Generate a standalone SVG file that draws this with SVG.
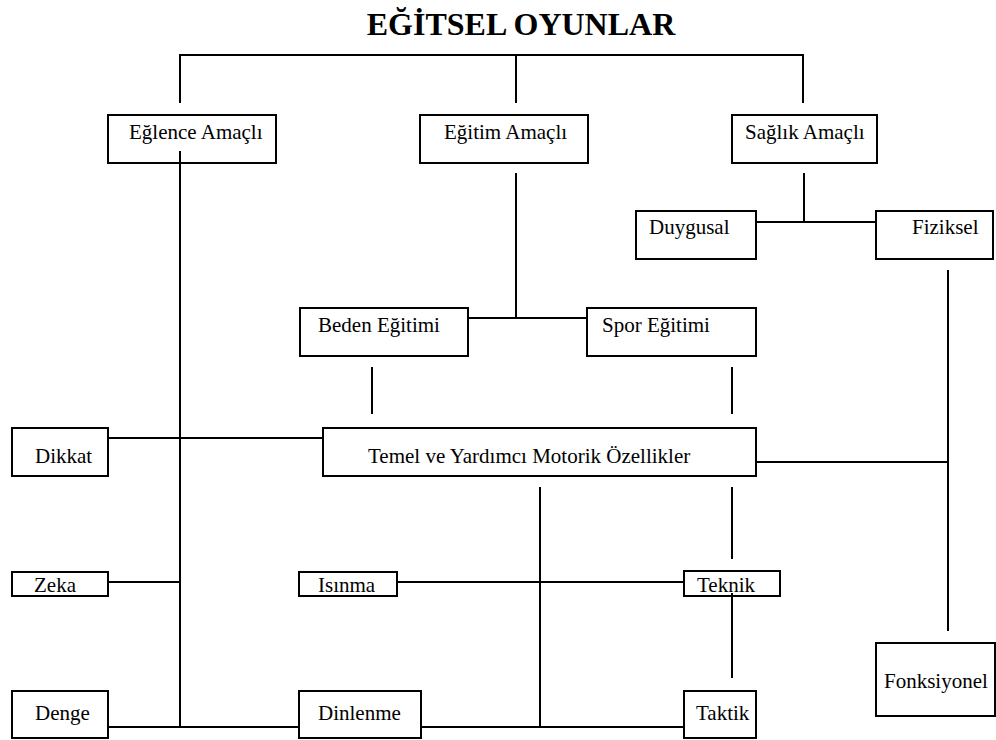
<svg xmlns="http://www.w3.org/2000/svg" width="996" height="740" viewBox="0 0 996 740">
<style>
.box{fill:#fff;stroke:#000;stroke-width:2}
.t{font-family:"Liberation Serif","Times New Roman",serif;font-size:21px;fill:#000}
.title{font-family:"Liberation Serif","Times New Roman",serif;font-size:32px;font-weight:bold;fill:#000}
.c{fill:none;stroke:#000;stroke-width:2}
</style>
<rect width="996" height="740" fill="#fff"/>
<text class="title" x="521" y="35" text-anchor="middle">EĞİTSEL OYUNLAR</text>
<g id="eglence"><rect class="box" x="108" y="115" width="168" height="48"/><text class="t" x="129" y="139">Eğlence Amaçlı</text></g>
<g id="egitim"><rect class="box" x="420" y="115" width="168" height="48"/><text class="t" x="444" y="139">Eğitim Amaçlı</text></g>
<g id="saglik"><rect class="box" x="732" y="115" width="145" height="48"/><text class="t" x="745" y="139">Sağlık Amaçlı</text></g>
<g id="duygusal"><rect class="box" x="636" y="211" width="120" height="48"/><text class="t" x="649" y="234">Duygusal</text></g>
<g id="fiziksel"><rect class="box" x="876" y="211" width="117" height="48"/><text class="t" x="912" y="234">Fiziksel</text></g>
<g id="beden"><rect class="box" x="300" y="308" width="168" height="48"/><text class="t" x="318" y="332">Beden Eğitimi</text></g>
<g id="spor"><rect class="box" x="587" y="308" width="169" height="48"/><text class="t" x="602" y="332">Spor Eğitimi</text></g>
<g id="dikkat"><rect class="box" x="12" y="428" width="96" height="48"/><text class="t" x="35" y="463">Dikkat</text></g>
<g id="temel"><rect class="box" x="323" y="428" width="433" height="48"/><text class="t" x="368" y="463">Temel ve Yardımcı Motorik Özellikler</text></g>
<g id="zeka"><rect class="box" x="12" y="572" width="96" height="24"/><text class="t" x="34" y="592">Zeka</text></g>
<g id="isinma"><rect class="box" x="299" y="572" width="98" height="24"/><text class="t" x="318" y="592">Isınma</text></g>
<g id="teknik"><rect class="box" x="684" y="571" width="96" height="25"/><text class="t" x="697" y="592">Teknik</text></g>
<g id="denge"><rect class="box" x="12" y="691" width="96" height="47"/><text class="t" x="35" y="720">Denge</text></g>
<g id="dinlenme"><rect class="box" x="299" y="691" width="122" height="47"/><text class="t" x="318" y="720">Dinlenme</text></g>
<g id="taktik"><rect class="box" x="684" y="691" width="72" height="47"/><text class="t" x="696" y="720">Taktik</text></g>
<g id="fonksiyonel"><rect class="box" x="876" y="643" width="119" height="73"/><text class="t" x="884" y="688">Fonksiyonel</text></g>
<g id="connectors" class="c">
<path d="M180,103 V55 H803 V103 M516,55 V103"/>
<path d="M180,151 V727"/>
<path d="M516,173 V318 M468,318 H587"/>
<path d="M804,173 V222 M756,222 H876"/>
<path d="M948,270 V631 M756,462 H948"/>
<path d="M372,367 V414 M732,367 V414"/>
<path d="M108,438 H323"/>
<path d="M540,487 V727 M732,487 V559"/>
<path d="M108,582 H180 M397,582 H684"/>
<path d="M732,593 V678"/>
<path d="M108,727 H299 M421,727 H684"/>
</g>
</svg>
